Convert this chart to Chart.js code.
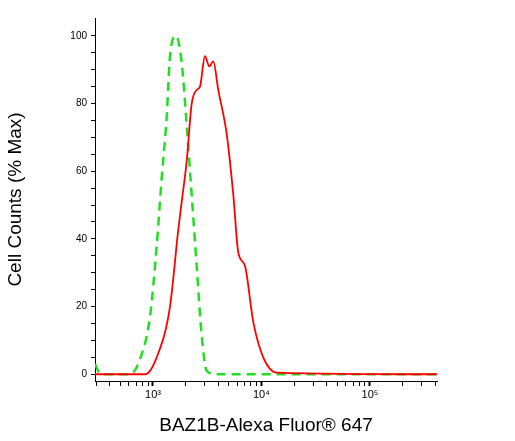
<!DOCTYPE html>
<html>
<head>
<script src="https://cdn.jsdelivr.net/npm/chart.js@4"></script>
<style>
  body { margin: 0; background: #fff; }
  #wrap { width: 515px; height: 441px; }
</style>
</head>
<body>
<div id="wrap"><canvas id="chart" width="515" height="441"></canvas></div>
<script>
// Start Data
const greenX = [292, 330, 400, 614, 759, 938, 1082, 1203, 1337, 1435, 1629, 1840, 2045, 2274, 2528, 2810, 3125, 3866, 415000];
const greenY = [3, 0, 0, 0, 4.5, 17, 38, 58, 76, 94, 100, 92, 73.6, 53, 32, 11.5, 1, 0, 0];
const redX = [292, 844, 1082, 1435, 1700, 1840, 2045, 2274, 2528, 2710, 3015, 3302, 3595, 4000, 4780, 5500, 6110, 7045, 8400, 10380, 13800, 415000];
const redY = [0, 0, 5, 20, 42, 51, 63, 80, 84, 85, 94, 91, 92.5, 84, 71, 53, 36, 32, 15.5, 5, 0.5, 0];
const yTicks = [0, 20, 40, 60, 80, 100];
const xLabels = {1000: '10³', 10000: '10⁴', 100000: '10⁵'};
// End Data

function pts(xs, ys) { return xs.map((x, i) => ({x: x, y: ys[i]})); }

new Chart(document.getElementById('chart'), {
  type: 'scatter',
  data: {
    datasets: [
      { data: pts(redX, redY), showLine: true, borderColor: '#ff0000', borderWidth: 1.8, pointRadius: 0, cubicInterpolationMode: 'monotone' },
      { data: pts(greenX, greenY), showLine: true, borderColor: '#22dd22', borderWidth: 2.5, borderDash: [9, 6], pointRadius: 0, cubicInterpolationMode: 'monotone' }
    ]
  },
  options: {
    responsive: false,
    animation: false,
    layout: { padding: { top: 18, right: 78, bottom: 0, left: 0 } },
    plugins: { legend: { display: false }, tooltip: { enabled: false } },
    scales: {
      x: {
        type: 'logarithmic', min: 292, max: 415000,
        grid: { display: true, drawOnChartArea: false, drawTicks: true, tickLength: 5,
                tickColor: '#000', tickWidth: c => xLabels[c.tick && c.tick.value] ? 2 : 1 },
        border: { color: '#000', width: 1 },
        afterBuildTicks: function(axis) {
          const t = [];
          for (let d = 100; d <= 100000; d *= 10)
            for (let m = 1; m <= 9; m++) { const v = d * m; if (v >= 292 && v <= 415000) t.push({value: v}); }
          axis.ticks = t;
        },
        ticks: { autoSkip: false, maxRotation: 0, padding: 2, color: '#000', font: { family: 'Arial, Liberation Sans', size: 11 },
                 callback: v => xLabels[v] || '' },
        title: { display: true, text: 'BAZ1B-Alexa Fluor® 647', color: '#000', font: { family: 'Arial, Liberation Sans', size: 19 }, padding: { top: 8 } },
        afterFit: function(s) { s.height = 60; }
      },
      y: {
        min: -2, max: 105.3,
        grid: { display: true, drawOnChartArea: false, drawTicks: true, tickLength: 4, tickColor: '#000' },
        border: { color: '#000', width: 1 },
        afterBuildTicks: function(axis) {
          const t = [];
          for (let v = 0; v <= 100; v += 5) t.push({value: v});
          axis.ticks = t;
        },
        ticks: { autoSkip: false, padding: 4, color: '#000', font: { family: 'Arial, Liberation Sans', size: 10 },
                 callback: v => yTicks.includes(v) ? String(v) : '' },
        title: { display: true, text: 'Cell Counts (% Max)', color: '#000', font: { family: 'Arial, Liberation Sans', size: 19 }, padding: { bottom: 10 } },
        afterFit: function(s) { s.width = 95; }
      }
    }
  }
});
</script>
</body>
</html>
